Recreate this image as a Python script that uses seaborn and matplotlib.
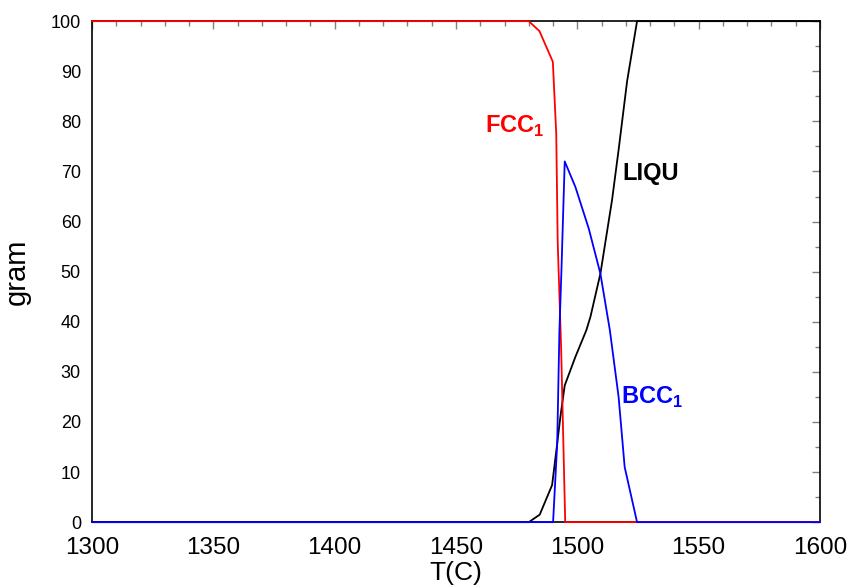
import matplotlib
matplotlib.use("Agg")
import matplotlib.pyplot as plt
from matplotlib.ticker import MultipleLocator
import seaborn as sns
import pandas as pd

# Phase amounts (gram) versus temperature (C)
liqu_t = [1300, 1480, 1484.5, 1489.6, 1491.7, 1493.0, 1494.8, 1499.2, 1503.7, 1505.4,
          1509.5, 1514.3, 1517.0, 1520.5, 1524.6, 1600]
liqu_g = [0, 0, 1.5, 7.4, 15.7, 21.0, 27.3, 33.0, 38.3, 41.0,
          49.6, 64.3, 74.3, 88.0, 100, 100]

fcc_t = [1300, 1480, 1484.4, 1489.9, 1491.3, 1491.9, 1493.3, 1495.0, 1600]
fcc_g = [100, 100, 98.0, 91.9, 77.6, 56.0, 35.0, 0, 0]

bcc_t = [1300, 1490.0, 1491.7, 1492.6, 1493.4, 1494.8, 1499.2, 1504.7, 1509.5,
         1513.4, 1517.0, 1519.5, 1524.6, 1600]
bcc_g = [0, 0, 15.7, 38.0, 49.6, 72.0, 66.9, 58.6, 49.6,
         38.3, 25.0, 11.0, 0, 0]

x_ticks = [1300, 1350, 1400, 1450, 1500, 1550, 1600]
y_ticks = [0, 10, 20, 30, 40, 50, 60, 70, 80, 90, 100]

sns.set_theme(style="white")
plt.rcParams["font.family"] = ["Liberation Sans", "DejaVu Sans"]
plt.rcParams["mathtext.fontset"] = "custom"
plt.rcParams["mathtext.bf"] = "Liberation Sans:bold"
plt.rcParams["mathtext.rm"] = "Liberation Sans"

fig = plt.figure(figsize=(8.48, 5.88), dpi=100)
ax = fig.add_axes([0.1085, 0.112, 0.8585, 0.852])

liqu = pd.DataFrame({"T": liqu_t, "g": liqu_g})
fcc = pd.DataFrame({"T": fcc_t, "g": fcc_g})
bcc = pd.DataFrame({"T": bcc_t, "g": bcc_g})

line_kw = dict(lw=1.3, sort=False, clip_on=False, zorder=5)
sns.lineplot(data=liqu, x="T", y="g", ax=ax, color="black", **line_kw)
sns.lineplot(data=fcc, x="T", y="g", ax=ax, color="#ff0000", **line_kw)
sns.lineplot(data=bcc, x="T", y="g", ax=ax, color="#0000ff", **line_kw)

ax.set_xlim(1300, 1600)
ax.set_ylim(0, 100)
ax.set_xticks(x_ticks)
ax.set_yticks(y_ticks)
ax.xaxis.set_minor_locator(MultipleLocator(10))
ax.yaxis.set_minor_locator(MultipleLocator(5))
ax.tick_params(axis="both", which="both", direction="in", top=True, right=True,
               color="#808080", width=1)
ax.tick_params(axis="both", which="major", length=6)
ax.tick_params(axis="both", which="minor", length=3.5)
ax.tick_params(axis="x", labelsize=17.5, pad=11, labelcolor="black")
ax.tick_params(axis="y", labelsize=13, pad=8, labelcolor="black")

for side in ["left", "right", "bottom", "top"]:
    ax.spines[side].set_color("black")
    ax.spines[side].set_linewidth(1.2)

ax.set_xlabel("T(C)", fontsize=19, labelpad=1, color="black")
ax.set_ylabel("gram", fontsize=21, labelpad=14, color="black")

lab_kw = dict(fontsize=17, fontweight="bold", ha="left", va="center")
ax.text(1462, 79, r"FCC$_\mathbf{1}$", color="#ff0000", **lab_kw)
ax.text(1518.5, 69.5, "LIQU", color="black", **lab_kw)
ax.text(1518, 25, r"BCC$_\mathbf{1}$", color="#0000ff", **lab_kw)

fig.savefig("out.png", dpi=100)
